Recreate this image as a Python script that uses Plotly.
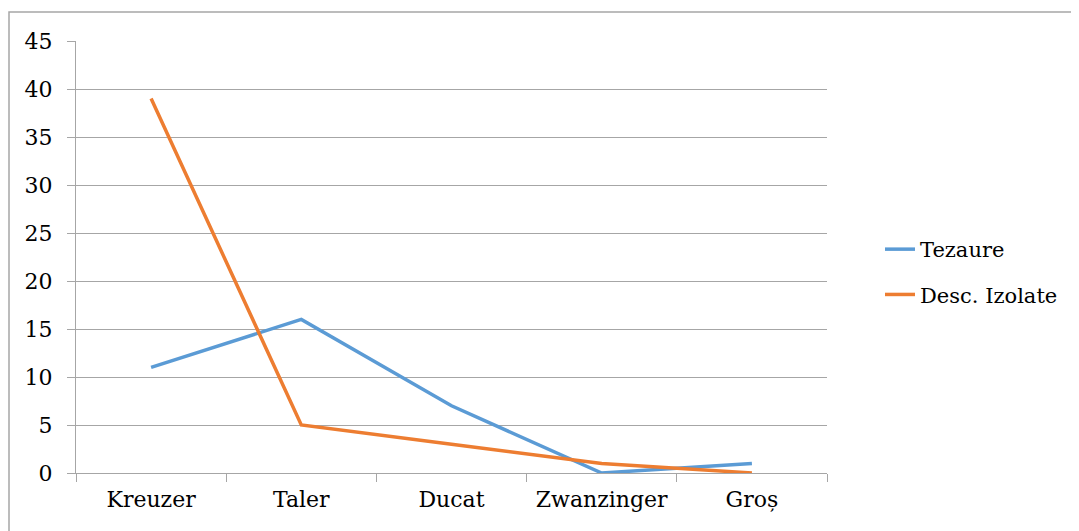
import plotly.graph_objects as go

categories = ["Kreuzer", "Taler", "Ducat", "Zwanzinger", "Groș"]
tezaure = [11, 16, 7, 0, 1]
desc_izolate = [39, 5, 3, 1, 0]
y_ticks = [0, 5, 10, 15, 20, 25, 30, 35, 40, 45]

OFF = 8  # page body margin
W, H = 1079 - OFF, 531 - OFF
L, R, T, B = 76 - OFF, 252, 41 - OFF, 58
pw, ph = W - L - R, H - T - B

fig = go.Figure()
fig.add_trace(go.Scatter(x=categories, y=tezaure, mode="lines", name="Tezaure",
                         line=dict(color="#5B9BD5", width=3.5), legendgroup="a"))
fig.add_trace(go.Scatter(x=categories, y=desc_izolate, mode="lines", name="Desc. Izolate",
                         line=dict(color="#ED7D31", width=3.5), legendgroup="b"))

font = dict(family="DejaVu Serif", size=22, color="#000000")
lfont = dict(family="DejaVu Serif", size=21, color="#000000")
grid = "#A6A6A6"

fig.update_layout(
    width=W, height=H,
    margin=dict(l=L, r=R, t=T, b=B),
    paper_bgcolor="white", plot_bgcolor="white",
    font=font,
    showlegend=True,
    legend=dict(x=(880 - 76) / pw, y=(473 - 229) / ph, xanchor="left", yanchor="top",
                font=lfont, tracegroupgap=15, bgcolor="rgba(0,0,0,0)", borderwidth=0),
    xaxis=dict(type="category", range=[-0.5, 4.5], showgrid=False,
               showline=True, linecolor=grid, linewidth=1,
               ticks="outside", tickson="boundaries", ticklen=8, tickcolor=grid,
               tickfont=font, ticklabelstandoff=7, fixedrange=True),
    yaxis=dict(range=[0, 45], tickvals=y_ticks, showgrid=True, gridcolor=grid, gridwidth=1,
               showline=True, linecolor=grid, linewidth=1, zeroline=False,
               ticks="outside", ticklen=8, tickcolor=grid, tickfont=font,
               ticklabelstandoff=10, fixedrange=True),
    shapes=[dict(type="rect", xref="paper", yref="paper",
                 x0=(9 - 76) / pw, x1=(1090 - 76) / pw,
                 y0=(473 - 545) / ph, y1=(473 - 12) / ph,
                 line=dict(color="#A6A6A6", width=1.5), layer="below")],
)

fig.write_html("out.html")
